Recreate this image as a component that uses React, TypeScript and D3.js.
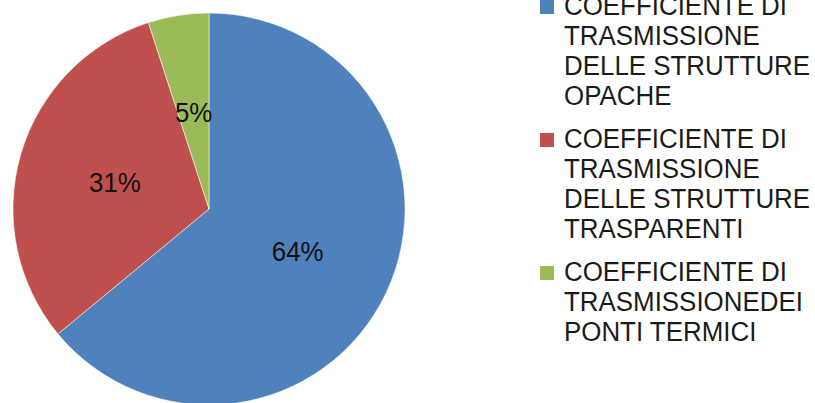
import React from "react";
import * as d3 from "d3";

const categories = [
  "COEFFICIENTE DI TRASMISSIONE DELLE STRUTTURE OPACHE",
  "COEFFICIENTE DI TRASMISSIONE DELLE STRUTTURE TRASPARENTI",
  "COEFFICIENTE DI TRASMISSIONEDEI PONTI TERMICI",
];
const legendLines = [
  ["COEFFICIENTE DI", "TRASMISSIONE", "DELLE STRUTTURE", "OPACHE"],
  ["COEFFICIENTE DI", "TRASMISSIONE", "DELLE STRUTTURE", "TRASPARENTI"],
  ["COEFFICIENTE DI", "TRASMISSIONEDEI", "PONTI TERMICI"],
];
const values = [64, 31, 5];
const colors = ["#4F81BD", "#C0504D", "#9BBB59"];

const W = 815;
const H = 403;
const cx = 209;
const cy = 209;
const R = 196;

export default function App() {
  const total = d3.sum(values);
  const pie = d3.pie<number>().sort(null).value((d) => d);
  const arcs = pie(values);
  const arc = d3.arc<d3.PieArcDatum<number>>().innerRadius(0).outerRadius(R);
  const fmt = (v: number) => `${Math.round((v / total) * 100)}%`;

  const lh = 30;
  const gap = 13;
  let baseline = 15;
  const legendItems = legendLines.map((lines, i) => {
    const start = baseline;
    baseline += lines.length * lh + gap;
    return { lines, start, i };
  });

  const textStyle: React.CSSProperties = {
    fontFamily: "'Liberation Sans', Arial, sans-serif",
    fontSize: 28,
  };

  return (
    <div style={{ position: "fixed", left: 0, top: 0, width: W, height: H, background: "#fff" }}>
      <svg width={W} height={H} viewBox={`0 0 ${W} ${H}`}>
        <rect width={W} height={H} fill="#fff" />
        <g transform={`translate(${cx},${cy})`}>
          {arcs.map((a, i) => (
            <path
              key={categories[i]}
              d={arc(a) || ""}
              fill={colors[i]}
              stroke="#fff"
              strokeOpacity={0.5}
              strokeWidth={1}
            />
          ))}
          {arcs.map((a, i) => {
            const [x, y] = arc.centroid(a);
            return (
              <text
                key={"l" + i}
                transform={`translate(${x},${y + 10}) scale(0.925,1)`}
                textAnchor="middle"
                fill="#111"
                style={textStyle}
              >
                {fmt(values[i])}
              </text>
            );
          })}
        </g>
        <g>
          {legendItems.map(({ lines, start, i }) => (
            <g key={"g" + i}>
              <rect x={540} y={start - 15} width={14} height={14} fill={colors[i]} />
              {lines.map((ln, j) => (
                <text
                  key={j}
                  transform={`translate(564,${start + j * lh}) scale(0.925,1)`}
                  fill="#1a1a1a"
                  style={textStyle}
                >
                  {ln}
                </text>
              ))}
            </g>
          ))}
        </g>
      </svg>
    </div>
  );
}
